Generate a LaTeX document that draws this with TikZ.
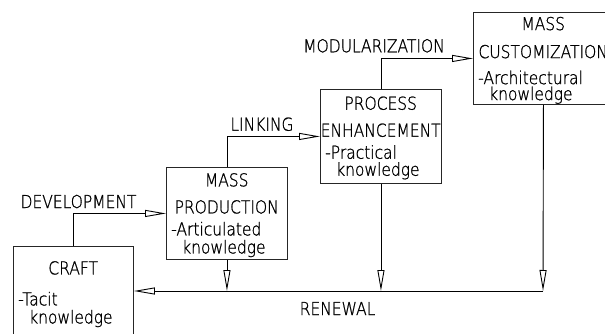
\documentclass[tikz,border=0pt]{standalone}
\usepackage{fontspec}
\newfontfamily\cadfont[FakeStretch=0.87, FakeBold=1]{DejaVu Sans ExtraLight}
\usetikzlibrary{arrows.meta}

\tikzset{
	stage/.style={draw=black!85, line width=0.9pt, anchor=north west, inner sep=0pt},
	stagetext/.style={anchor=north west, inner sep=0pt, align=left, font=\cadfont\fontsize{17.8}{18}\selectfont},
	cadlabel/.style={anchor=base, inner sep=0pt, font=\cadfont\fontsize{17.8}{18}\selectfont},
	flow/.style={line width=0.9pt, -{Triangle[open, length=21pt, width=7pt]}}
}

\begin{document}
\begin{tikzpicture}[x=1pt, y=-1pt]
				\useasboundingbox (0,0) rectangle (605,334);
				\clip (0,0) rectangle (605,334);
				
				% the four stages
				\node [stage, minimum width=120, minimum height=120] (craft) at (13,246) {};
				\node [stage, minimum width=121, minimum height=92] (mprod) at (166,167) {};
				\node [stage, minimum width=121, minimum height=94] (penh) at (320,89) {};
				\node [stage, minimum width=140, minimum height=92] (mcust) at (473,12) {};
				
				\node [stagetext, text width=110] (crafttext) at ([shift={(5,15)}]craft.north west)
					{\makebox[\linewidth]{CRAFT}\\[13pt] -Tacit\\ \hspace*{11pt}knowledge};
				\node [stagetext, text width=111] (mprodtext) at ([shift={(5,6)}]mprod.north west)
					{\makebox[\linewidth]{MASS}\\[9pt] \makebox[\linewidth]{PRODUCTION}\\[4pt] -Articulated\\ \hspace*{11pt}knowledge};
				\node [stagetext, text width=111] (penhtext) at ([shift={(5,7.3)}]penh.north west)
					{\makebox[\linewidth]{PROCESS}\\[9pt] \makebox[\linewidth]{ENHANCEMENT}\\[4pt] -Practical\\[-1pt] \hspace*{11pt}knowledge};
				\node [stagetext, text width=130] (mcusttext) at ([shift={(5,4.7)}]mcust.north west)
					{\makebox[\linewidth]{MASS}\\[10pt] \makebox[\linewidth]{CUSTOMIZATION}\\[8pt] -Architectural\\[-2pt] \hspace*{11pt}knowledge};
				
				% steps up
				\draw [flow] (craft.north) |- (mprod.west);
				\draw [flow] (mprod.north) |- (penh.west);
				\draw [flow] (penh.north) |- (mcust.west);
				
				% renewal line back to craft
				\coordinate (renew) at (543,291);
				\draw [flow] (mcust.south) -- (renew);
				\draw [flow] (penh.south) -- (penh.south |- renew);
				\draw [flow] (mprod.south) -- (mprod.south |- renew);
				\draw [flow] (renew) -- (renew -| craft.east);
				
				\node [cadlabel] (devlabel) at (78.5,208) {DEVELOPMENT};
				\node [cadlabel] (linklabel) at (262,130.7) {LINKING};
				\node [cadlabel] (modlabel) at (374,52.3) {MODULARIZATION};
				\node [cadlabel] (renewlabel) at (337.5,315) {RENEWAL};
\end{tikzpicture}
\end{document}
